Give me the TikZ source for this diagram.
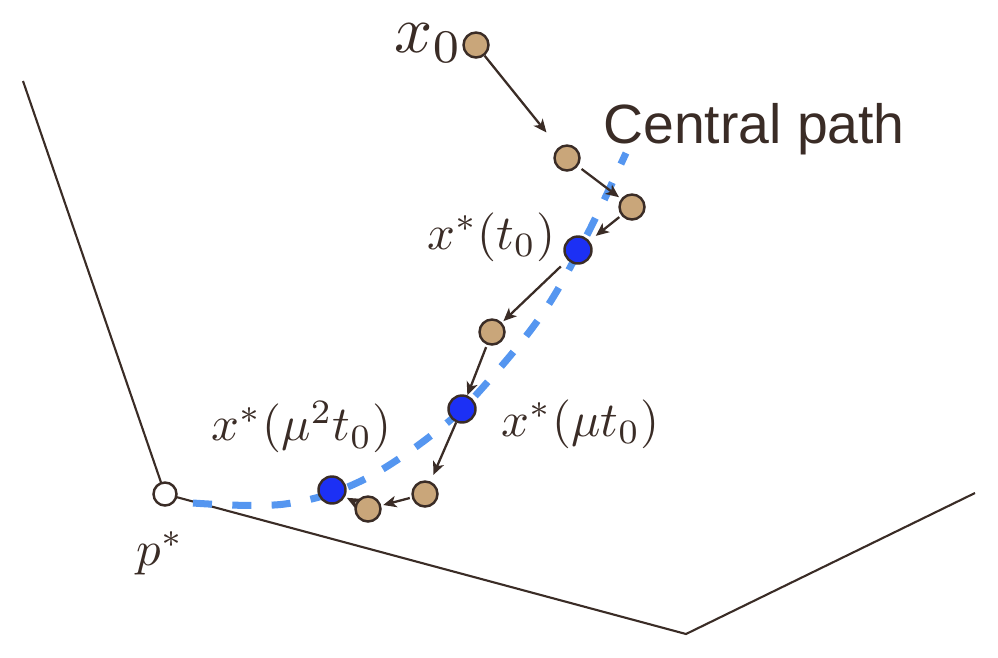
\documentclass[tikz,border=0pt]{standalone}
\usepackage{fontspec}
\newfontfamily\labelsans{Liberation Sans}
\usetikzlibrary{arrows.meta}
\definecolor{ink}{RGB}{58,44,38}
\definecolor{tan}{RGB}{201,166,122}
\definecolor{ptblue}{RGB}{28,48,245}
\definecolor{pathblue}{RGB}{85,150,240}
\tikzset{
  tanpt/.style={circle,draw=ink,line width=1.4pt,fill=tan,minimum size=0.5cm,inner sep=0pt},
  bluept/.style={circle,draw=ink,line width=1.4pt,fill=ptblue,minimum size=0.54cm,inner sep=0pt},
  optpt/.style={circle,draw=ink,line width=1.4pt,fill=white,minimum size=0.46cm,inner sep=0pt},
  stepar/.style={draw=ink,line width=1.3pt,-{Stealth[length=7.5pt,width=6.5pt,inset=2pt]}},
  edge/.style={draw=ink,line width=1.2pt},
  cpath/.style={draw=pathblue,line width=4pt,dash pattern=on 10.8pt off 11.6pt},
  mlabel/.style={text=ink,inner sep=0pt,scale=2.78}
}
\begin{document}
\begin{tikzpicture}[x=0.02cm,y=-0.02cm]
\useasboundingbox (0,0) rectangle (998,657);
% feasible set boundary
\coordinate (tl) at (23,81);
\coordinate (pc) at (165,494);
\coordinate (bc) at (686,634);
\coordinate (tr) at (975,493);
\draw[edge] (tl) -- (pc) -- (bc) -- (tr);
% central path
\draw[cpath] plot[smooth,tension=0.6] coordinates {(193,503) (285,504) (363,480) (442,427) (492,377) (545,310) (587,235) (626,153)};
% points
\node[optpt] (p) at (pc) {};
\node[tanpt] (a0) at (476,45) {};
\node[tanpt] (a1) at (567,158) {};
\node[tanpt] (a2) at (632,207) {};
\node[bluept] (b1) at (578,250) {};
\node[tanpt] (a3) at (492,332) {};
\node[bluept] (b2) at (462,409) {};
\node[tanpt] (a4) at (425,494) {};
\node[tanpt] (a5) at (368,509) {};
\node[bluept] (b3) at (332,490) {};
% arrows
\draw[stepar,shorten >=0.38cm] (a0) -- (a1);
\draw[stepar,shorten <=0.09cm,shorten >=0.05cm] (a1) -- (a2);
\draw[stepar,shorten <=0.05cm,shorten >=0.16cm] (a2) -- (b1);
\draw[stepar,shorten <=0.18cm,shorten >=0.04cm] (b1) -- (a3);
\draw[stepar,shorten <=0.05cm] (a3) -- (b2);
\draw[stepar,shorten >=0.14cm] (b2) -- (a4);
\draw[stepar,shorten <=0.04cm,shorten >=0.04cm] (a4) -- (a5);
\draw[stepar,shorten <=0.04cm,shorten >=0.04cm] (a5) -- (b3);
% labels
\node[mlabel,anchor=base east,scale=1.37] (l0) at (464,52) {$x_0$};
\node[mlabel,anchor=east] (l1) at (556,237) {$x^*(t_0)$};
\node[mlabel,anchor=west] (l2) at (501,424) {$x^*(\mu t_0)$};
\node[mlabel,anchor=west] (l3) at (211,427) {$x^*(\mu^2 t_0)$};
\node[mlabel,anchor=base west] (lp) at (136,565) {$p^*$};
\node[text=ink,inner sep=0pt,anchor=base west,font=\labelsans\fontsize{31.5}{37}\selectfont] (lc) at (603,143) {Central path};
\end{tikzpicture}
\end{document}
